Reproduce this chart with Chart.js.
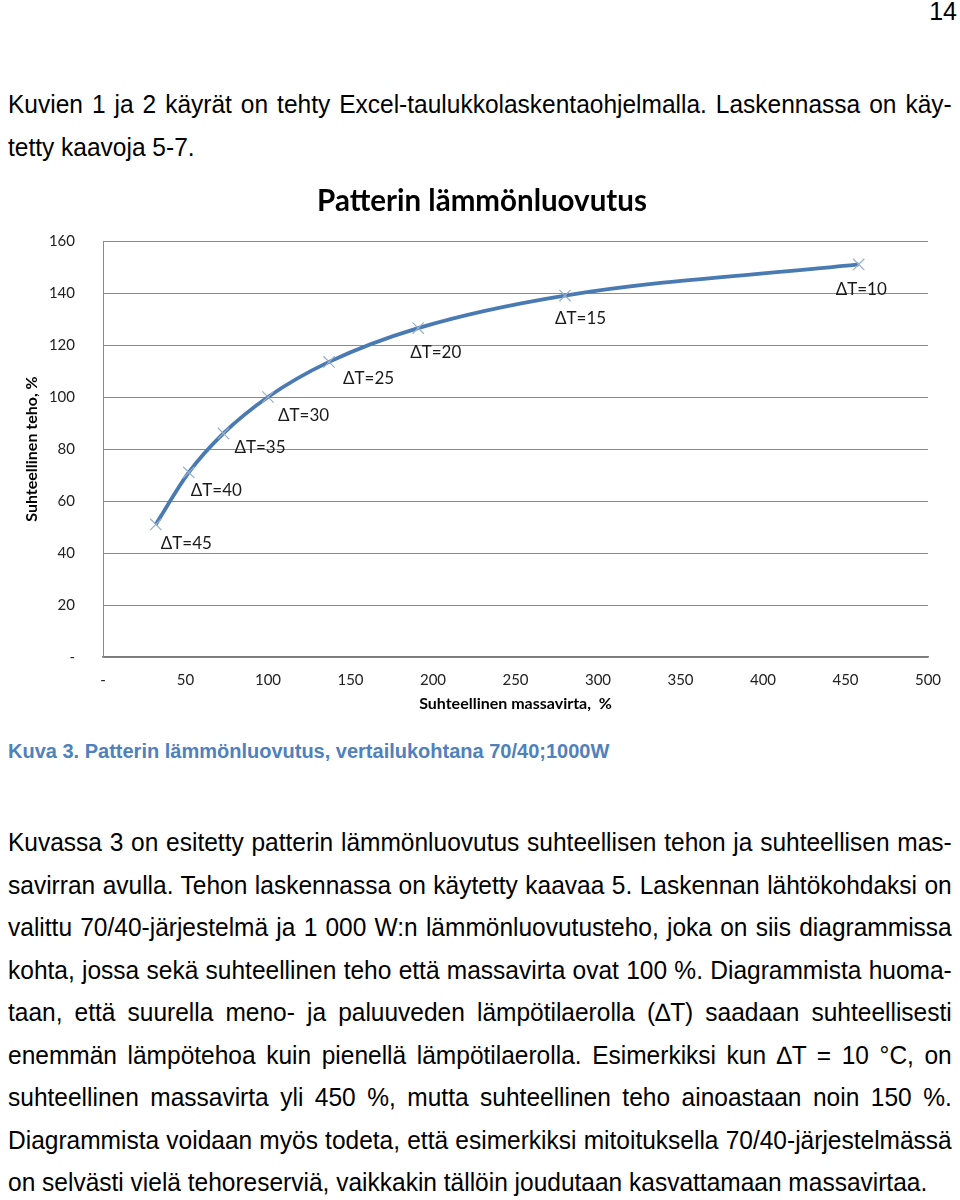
<!DOCTYPE html>
<html>
<head>
<meta charset="utf-8">
<script src="https://cdn.jsdelivr.net/npm/chart.js@4.4.1/dist/chart.umd.min.js"></script>
<style>
  body { margin: 0; background: #fff; width: 960px; height: 1200px; position: relative; overflow: hidden;
         font-family: "Liberation Sans", Arial, sans-serif; color: #000; }
  .pagenum { position: absolute; right: 3px; top: -1px; font-size: 25px; line-height: 25px; }
  .txt { position: absolute; left: 8px; width: 963px; font-size: 25px; line-height: 42.5px;
         transform-origin: 0 0; transform: scaleX(0.98); }
  .j { text-align: justify; text-align-last: justify; }
  .caption { position: absolute; left: 8px; top: 741px; font-size: 20px; line-height: 20px; font-weight: bold;
             color: #4f81bd; white-space: nowrap; }
  #chartBox { position: absolute; left: 0; top: 180px; width: 960px; height: 540px; }
</style>
</head>
<body>
<div class="pagenum">14</div>

<div class="txt" style="top:83px">
  <div class="j">Kuvien 1 ja 2 käyrät on tehty Excel-taulukkolaskentaohjelmalla. Laskennassa on käy-</div>
  <div>tetty kaavoja 5-7.</div>
</div>

<div id="chartBox"><canvas id="chart" width="960" height="540"></canvas></div>

<div class="caption">Kuva 3. Patterin lämmönluovutus, vertailukohtana 70/40;1000W</div>

<div class="txt" style="top:821px">
  <div class="j">Kuvassa 3 on esitetty patterin lämmönluovutus suhteellisen tehon ja suhteellisen mas-</div>
  <div class="j">savirran avulla. Tehon laskennassa on käytetty kaavaa 5. Laskennan lähtökohdaksi on</div>
  <div class="j">valittu 70/40-järjestelmä ja 1&nbsp;000 W:n lämmönluovutusteho, joka on siis diagrammissa</div>
  <div class="j">kohta, jossa sekä suhteellinen teho että massavirta ovat 100 %. Diagrammista huoma-</div>
  <div class="j">taan, että suurella meno- ja paluuveden lämpötilaerolla (∆T) saadaan suhteellisesti</div>
  <div class="j">enemmän lämpötehoa kuin pienellä lämpötilaerolla. Esimerkiksi kun ∆T = 10 °C, on</div>
  <div class="j">suhteellinen massavirta yli 450 %, mutta suhteellinen teho ainoastaan noin 150 %.</div>
  <div class="j">Diagrammista voidaan myös todeta, että esimerkiksi mitoituksella 70/40-järjestelmässä</div>
  <div>on selvästi vielä tehoreserviä, vaikkakin tällöin joudutaan kasvattamaan massavirtaa.</div>
</div>

<script>
// data
const dtLabels = ['ΔT=45', 'ΔT=40', 'ΔT=35', 'ΔT=30', 'ΔT=25', 'ΔT=20', 'ΔT=15', 'ΔT=10'];
const massFlow = [32, 52, 73, 100, 137, 191, 280, 458];   // x, %
const relPower = [51, 71, 86, 100, 113.5, 126.5, 139, 151]; // y, %

// where each ΔT label sits relative to its marker (dx to text start, dy to text middle)
const labelOffsets = [[5, 19], [2, 18], [11, 14], [10, 19], [14, 17], [-8, 24], [-10, 23], [-23, 25]];

Chart.defaults.font.family = 'Lato, "Open Sans", sans-serif';
Chart.defaults.color = '#222';

const pointLabels = {
    id: 'pointLabels',
    afterDatasetsDraw(chart) {
        const ctx = chart.ctx;
        const meta = chart.getDatasetMeta(0);
        ctx.save();
        ctx.font = '17px Lato, sans-serif';
        ctx.fillStyle = '#1a1a1a';
        ctx.textAlign = 'left';
        ctx.textBaseline = 'middle';
        meta.data.forEach(function(pt, i) {
            ctx.fillText(dtLabels[i], pt.x + labelOffsets[i][0], pt.y + labelOffsets[i][1]);
        });
        ctx.restore();
    }
};

function dashZero(v) {
    return v === 0 ? '-' : v;
}

const ctx = document.getElementById('chart').getContext('2d');
const chart = new Chart(ctx, {
    type: 'line',
    data: {
        datasets: [{
            data: massFlow.map((x, i) => ({ x: x, y: relPower[i] })),
            borderColor: '#4a7ab2',
            borderWidth: 3.8,
            cubicInterpolationMode: 'monotone',
            pointStyle: 'crossRot',
            pointRadius: 8,
            pointBorderWidth: 1.2,
            pointBorderColor: '#97afcc',
            pointBackgroundColor: '#97afcc',
            fill: false
        }]
    },
    options: {
        responsive: false,
        animation: false,
        // left padding pulls the title centre over to where the original sits
        layout: { padding: { left: 36, right: 32, top: 0, bottom: 0 } },
        plugins: {
            legend: { display: false },
            tooltip: { enabled: false },
            title: {
                display: true,
                text: 'Patterin lämmönluovutus',
                color: '#000',
                font: { size: 29.5, weight: 'bold' },
                padding: { top: 3.3, bottom: 22.3 }
            }
        },
        scales: {
            x: {
                type: 'linear',
                min: 0,
                max: 500,
                afterFit: function(scale) { scale.height = 63; },
                grid: { display: false, drawTicks: false },
                border: { display: true, color: '#7a7a7a', width: 1.5 },
                ticks: { stepSize: 50, padding: 14, font: { size: 15 }, callback: dashZero },
                title: {
                    display: true,
                    text: 'Suhteellinen massavirta,  %',
                    color: '#000',
                    font: { size: 16, weight: 'bold' },
                    padding: { top: 0, bottom: 7 }
                }
            },
            y: {
                min: 0,
                max: 160,
                afterFit: function(scale) { scale.width = 67; },
                grid: { color: '#8a8a8a', lineWidth: 1, drawTicks: false },
                border: { display: true, color: '#8a8a8a', width: 1 },
                ticks: { stepSize: 20, padding: 28, font: { size: 15 }, callback: dashZero },
                title: {
                    display: true,
                    text: 'Suhteellinen teho, %',
                    color: '#000',
                    font: { size: 16, weight: 'bold' },
                    padding: { top: -13.6, bottom: 0 }
                }
            }
        }
    },
    plugins: [pointLabels]
});
</script>
</body>
</html>
